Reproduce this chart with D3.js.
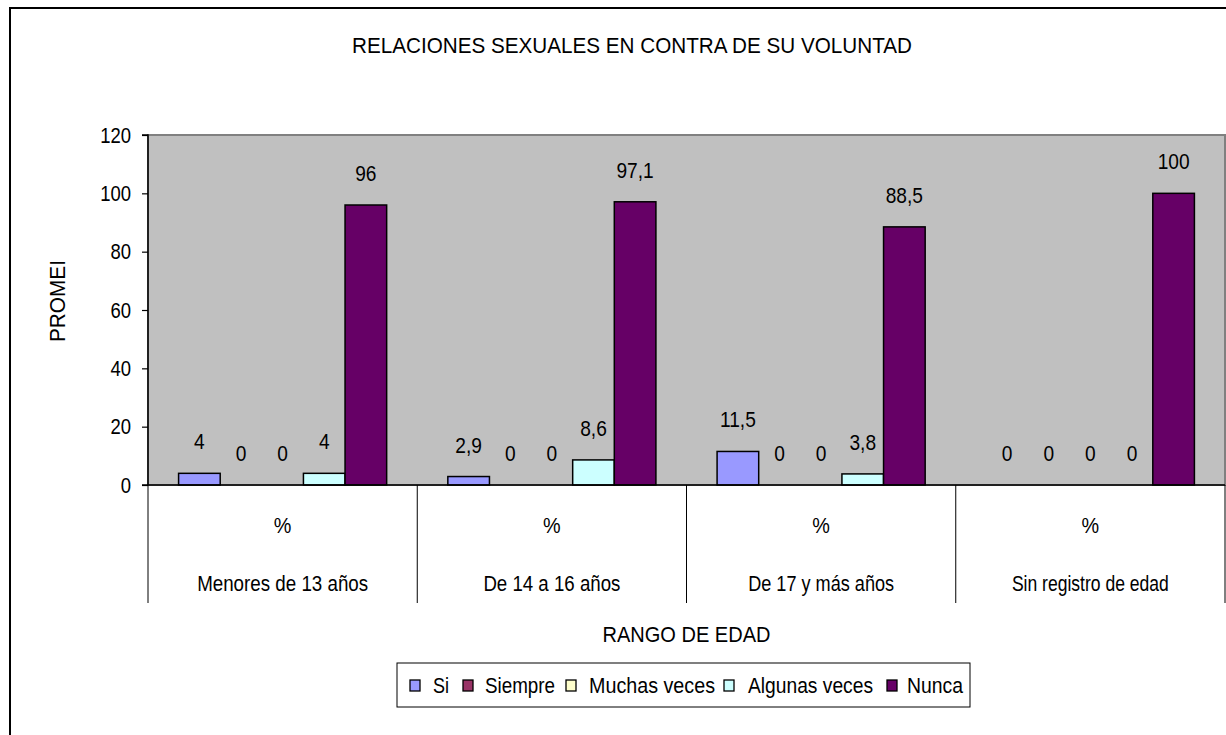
<!DOCTYPE html>
<html><head><meta charset="utf-8">
<script src="https://cdn.jsdelivr.net/npm/d3@7"></script>
<style>
html,body{margin:0;padding:0;background:#fff;}
svg{display:block;}
text{font-family:"Liberation Sans",Arial,sans-serif;fill:#000;}
</style></head>
<body>
<svg id="chart" width="1226" height="735"></svg>
<script>
const title = "RELACIONES SEXUALES EN CONTRA DE SU VOLUNTAD";
const yTitle = "PROMEI";
const xTitle = "RANGO DE EDAD";
const categories = ["Menores de 13 años", "De 14 a 16 años", "De 17 y más años", "Sin registro de  edad"];
const subLabel = "%";
const series = ["Si", "Siempre", "Muchas veces", "Algunas veces", "Nunca"];
const colors = ["#9999FF", "#993366", "#FFFFCC", "#CCFFFF", "#660066"];
const valSi = [4, 2.9, 11.5, 0];
const valSiempre = [0, 0, 0, 0];
const valMuchas = [0, 0, 0, 0];
const valAlgunas = [4, 8.6, 3.8, 0];
const valNunca = [96, 97.1, 88.5, 100];
const yTicks = [0, 20, 40, 60, 80, 100, 120];

const values = [valSi, valSiempre, valMuchas, valAlgunas, valNunca];
const fmt = v => String(v).replace(".", ",");
const FS = 22;

function squeeze(sel, k) {
  sel.each(function() {
    const w = this.getComputedTextLength();
    d3.select(this).attr("textLength", w * k).attr("lengthAdjust", "spacingAndGlyphs");
  });
}
function fitTo(sel, w) {
  sel.attr("textLength", w).attr("lengthAdjust", "spacingAndGlyphs");
}

const svg = d3.select("#chart");
const L = 148, R = 1225, T = 135, B = 485;

svg.append("rect").attr("x", 10).attr("y", 8).attr("width", 1300).attr("height", 800)
  .attr("fill", "#fff").attr("stroke", "#000").attr("stroke-width", 2);

const x0 = d3.scaleBand().domain(categories).range([L, R]).paddingInner(0).paddingOuter(0);
const x1 = d3.scaleBand().domain(series).range([0, x0.bandwidth()]).paddingInner(0).paddingOuter(0.735);
const y = d3.scaleLinear().domain([0, 120]).range([B, T]);

svg.append("rect").attr("x", L).attr("y", T).attr("width", R - L).attr("height", B - T)
  .attr("fill", "#C0C0C0").attr("stroke", "#808080").attr("stroke-width", 2);

svg.append("text").attr("x", 632).attr("y", 53).attr("text-anchor", "middle")
  .attr("font-size", FS).text(title).call(fitTo, 560);

const groups = svg.append("g").selectAll("g").data(categories).join("g")
  .attr("transform", d => `translate(${x0(d)},0)`);
groups.each(function(cat, ci) {
  const g = d3.select(this);
  const data = series.map((s, si) => ({s, si, v: values[si][ci]}));
  g.selectAll("rect").data(data.filter(d => d.v > 0)).join("rect")
    .attr("x", d => x1(d.s)).attr("y", d => y(d.v))
    .attr("width", x1.bandwidth()).attr("height", d => y(0) - y(d.v))
    .attr("fill", d => colors[d.si]).attr("stroke", "#000").attr("stroke-width", 1.5);
  g.selectAll("text.lbl").data(data).join("text").attr("class", "lbl")
    .attr("x", d => x1(d.s) + x1.bandwidth() / 2).attr("y", d => y(d.v) - 24)
    .attr("text-anchor", "middle").attr("font-size", FS)
    .text(d => fmt(d.v)).call(squeeze, 0.87);
});

const yAxis = d3.axisLeft(y).tickValues(yTicks).tickSize(6).tickPadding(11);
const ya = svg.append("g").attr("transform", `translate(${L},0)`).call(yAxis);
ya.select(".domain").attr("stroke", "#000").attr("stroke-width", 1.5).attr("d", `M-6,${T}H0V${B}`);
ya.selectAll(".tick line").attr("stroke", "#000").attr("stroke-width", 1.2);
ya.selectAll(".tick text").attr("font-size", FS)
  .attr("font-family", '"Liberation Sans",Arial,sans-serif').attr("fill", "#000")
  .call(squeeze, 0.84);

svg.append("line").attr("x1", L - 6).attr("x2", R).attr("y1", B).attr("y2", B)
  .attr("stroke", "#000").attr("stroke-width", 1.5);
const dividers = categories.map(c => x0(c)).concat([x0(categories[categories.length - 1]) + x0.bandwidth()]);
svg.append("g").selectAll("line").data(dividers).join("line")
  .attr("x1", d => d).attr("x2", d => d).attr("y1", B).attr("y2", 603)
  .attr("stroke", "#000").attr("stroke-width", 1);

svg.append("g").selectAll("text").data(categories).join("text")
  .attr("x", d => x0(d) + x0.bandwidth() / 2).attr("y", 533).attr("text-anchor", "middle")
  .attr("font-size", FS).text(subLabel).call(squeeze, 0.9);
const catW = [171, 137, 146, 157];
svg.append("g").selectAll("text").data(categories).join("text")
  .attr("x", d => x0(d) + x0.bandwidth() / 2).attr("y", 591).attr("text-anchor", "middle")
  .attr("font-size", FS).text(d => d)
  .attr("textLength", (d, i) => catW[i]).attr("lengthAdjust", "spacingAndGlyphs");

svg.append("text").attr("x", (L + R) / 2).attr("y", 642).attr("text-anchor", "middle")
  .attr("font-size", FS).text(xTitle).call(fitTo, 168);
svg.append("text").attr("transform", "translate(65,301) rotate(-90)").attr("text-anchor", "middle")
  .attr("font-size", FS).text(yTitle).call(fitTo, 82);

const lg = svg.append("g");
lg.append("rect").attr("x", 397).attr("y", 663).attr("width", 573).attr("height", 44)
  .attr("fill", "#fff").attr("stroke", "#000").attr("stroke-width", 1);
const legSw = [410, 463, 566, 724, 887];
const legTx = [433, 485, 589, 748, 907];
const legW = [16, 70, 126, 125, 56];
series.forEach((s, i) => {
  lg.append("rect").attr("x", legSw[i]).attr("y", 680).attr("width", 10).attr("height", 11)
    .attr("fill", colors[i]).attr("stroke", "#000").attr("stroke-width", 1.3);
  lg.append("text").attr("x", legTx[i]).attr("y", 693).attr("font-size", FS)
    .text(s).call(fitTo, legW[i]);
});
</script>
</body></html>
